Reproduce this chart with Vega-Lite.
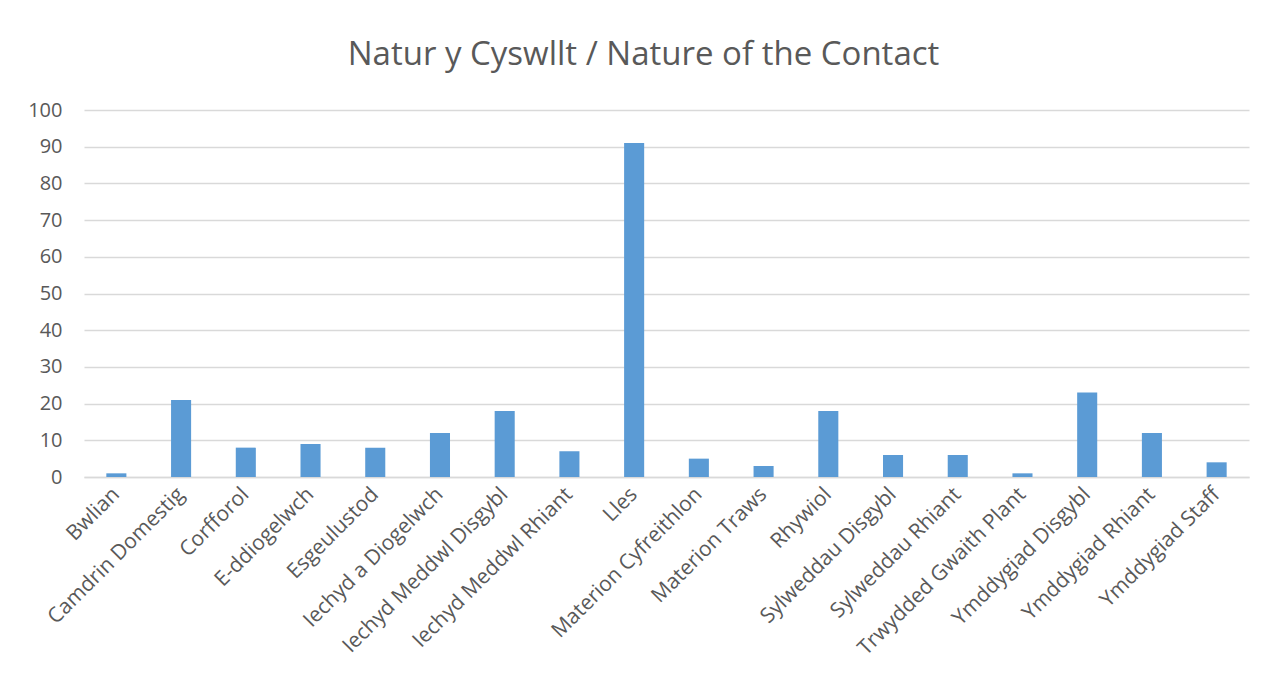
{
  "$schema": "https://vega.github.io/schema/vega-lite/v6.json",
  "autosize": {"type": "none"},
  "padding": {"left": 84, "top": 110, "right": 17, "bottom": 207},
  "width": 1165,
  "height": 367,
  "background": "white",
  "title": {
    "text": "Natur y Cyswllt / Nature of the Contact",
    "font": "Open Sans",
    "fontSize": 33,
    "fontWeight": "normal",
    "color": "#595959",
    "anchor": "middle",
    "dx": -23,
    "offset": 28
  },
  "data": {
    "values": [
      {"category": "Bwlian", "value": 1},
      {"category": "Camdrin Domestig", "value": 21},
      {"category": "Corfforol", "value": 8},
      {"category": "E-ddiogelwch", "value": 9},
      {"category": "Esgeulustod", "value": 8},
      {"category": "Iechyd a Diogelwch", "value": 12},
      {"category": "Iechyd Meddwl Disgybl", "value": 18},
      {"category": "Iechyd Meddwl Rhiant", "value": 7},
      {"category": "Lles", "value": 91},
      {"category": "Materion Cyfreithlon", "value": 5},
      {"category": "Materion Traws", "value": 3},
      {"category": "Rhywiol", "value": 18},
      {"category": "Sylweddau Disgybl", "value": 6},
      {"category": "Sylweddau Rhiant", "value": 6},
      {"category": "Trwydded Gwaith Plant", "value": 1},
      {"category": "Ymddygiad Disgybl", "value": 23},
      {"category": "Ymddygiad Rhiant", "value": 12},
      {"category": "Ymddygiad Staff", "value": 4}
    ]
  },
  "mark": {"type": "bar", "color": "#5B9BD5"},
  "encoding": {
    "x": {
      "field": "category",
      "type": "nominal",
      "sort": null,
      "scale": {"paddingInner": 0.69, "paddingOuter": 0.345},
      "axis": {
        "title": null,
        "labelAngle": -45,
        "labelAlign": "right",
        "labelBaseline": "middle",
        "labelFont": "Open Sans",
        "labelFontSize": 21,
        "labelColor": "#595959",
        "labelPadding": 14,
        "labelOverlap": false,
        "labelLimit": 400,
        "ticks": false,
        "domainColor": "#D9D9D9",
        "domainWidth": 1.5,
        "grid": false
      }
    },
    "y": {
      "field": "value",
      "type": "quantitative",
      "scale": {"domain": [0, 100]},
      "axis": {
        "title": null,
        "values": [0, 10, 20, 30, 40, 50, 60, 70, 80, 90, 100],
        "labelFont": "Open Sans",
        "labelFontSize": 20,
        "labelColor": "#595959",
        "labelPadding": 22,
        "ticks": false,
        "domain": false,
        "gridColor": "#D9D9D9",
        "gridWidth": 1.3
      }
    }
  },
  "config": {"view": {"stroke": null}}
}
